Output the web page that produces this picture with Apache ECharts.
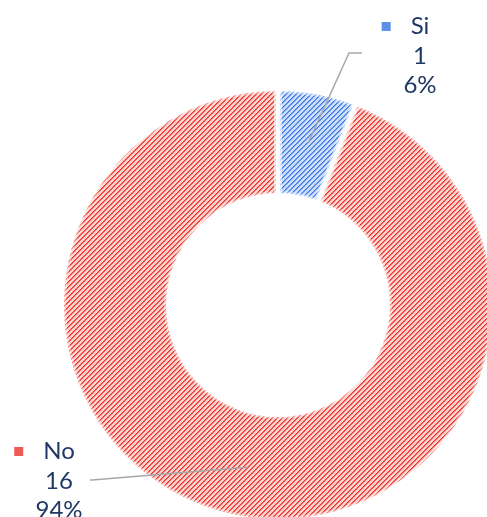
<!DOCTYPE html>
<html>
<head>
<meta charset="utf-8">
<script src="https://cdn.jsdelivr.net/npm/echarts@6/dist/echarts.min.js"></script>
<style>
  html, body { margin: 0; padding: 0; background: #fff; }
  #chart { width: 487px; height: 517px; }
</style>
</head>
<body>
<div id="chart"></div>
<script>
// Survey answers
const categories = ['Si', 'No'];
const counts = [1, 16];

// Palette per answer: [stripe, stripe edge, background], plus key colour
const stripeColors = [
  ['rgb(58,118,232)', 'rgb(118,160,240)', 'rgb(205,222,251)'],
  ['rgb(236,48,42)', 'rgb(243,108,100)', 'rgb(251,210,206)']
];
const keyColors = ['#5B8FE8', '#EE5A55'];

// Upward diagonal hatch tile
function hatch(cols) {
  const size = 5;
  const c = document.createElement('canvas');
  c.width = size; c.height = size;
  const ctx = c.getContext('2d');
  ctx.fillStyle = cols[2];
  ctx.fillRect(0, 0, size, size);
  for (let y = 0; y < size; y++) {
    const d = (size - 1 - y + size) % size;
    ctx.fillStyle = cols[0];
    ctx.fillRect(d, y, 1, 1);
    ctx.fillStyle = cols[1];
    ctx.fillRect((d + 1) % size, y, 1, 1);
  }
  return c;
}

const total = counts.reduce((a, b) => a + b, 0);
const ringData = categories.map((name, i) => ({
  name,
  value: counts[i],
  itemStyle: { color: { image: hatch(stripeColors[i]), repeat: 'repeat' } }
}));

const textColor = '#1F3864';
const font = 'Lato';

const labelSpots = {
  Si: { x: 420, y: 56, bend: [349, 53], end: [362, 53] },
  No: { x: 59, y: 481, bend: [92, 480], end: [90, 480] }
};

const ring = { center: [278, 305], radius: [110, 216] };

const chart = echarts.init(document.getElementById('chart'), null, { renderer: 'canvas' });

chart.setOption({
  animation: false,
  series: [
    {
      type: 'pie',
      z: 2,
      center: ring.center,
      radius: ring.radius,
      startAngle: 90,
      clockwise: true,
      silent: true,
      label: { show: false },
      labelLine: { show: false },
      itemStyle: { borderColor: '#ffffff', borderWidth: 4 },
      data: ringData
    },
    {
      // soft fade along the slice edges
      type: 'pie',
      z: 3,
      center: ring.center,
      radius: ring.radius,
      startAngle: 90,
      clockwise: true,
      silent: true,
      label: { show: false },
      labelLine: { show: false },
      itemStyle: { color: 'rgba(0,0,0,0)', borderColor: 'rgba(255,255,255,0.4)', borderWidth: 8 },
      data: categories.map((name, i) => ({ name, value: counts[i] }))
    },
    {
      // invisible guide ring that anchors the callout lines inside the band
      type: 'pie',
      z: 4,
      center: ring.center,
      radius: [0, 165],
      startAngle: 90,
      clockwise: true,
      silent: true,
      itemStyle: { color: 'rgba(0,0,0,0)' },
      emphasis: { disabled: true },
      data: categories.map((name, i) => ({ name, value: counts[i] })),
      label: {
        show: true,
        position: 'outside',
        formatter: p => {
          const pct = Math.round(p.value / total * 100);
          const mk = p.dataIndex === 0 ? 'm0' : 'm1';
          return `{${mk}|}{g|}{t|${p.name}}{r|}\n{t|${p.value}}\n{t|${pct}%}`;
        },
        align: 'center',
        rich: {
          m0: { width: 9, height: 9, backgroundColor: keyColors[0] },
          m1: { width: 9, height: 9, backgroundColor: keyColors[1] },
          g: { width: 20 },
          r: { width: 29 },
          t: { fontFamily: font, fontSize: 24, color: textColor, lineHeight: 29.5 }
        }
      },
      labelLine: {
        show: true,
        lineStyle: { color: '#A6A6A6', width: 1.5 }
      },
      labelLayout: params => {
        const name = categories[params.dataIndex];
        const s = labelSpots[name];
        const start = params.labelLinePoints ? params.labelLinePoints[0] : s.bend;
        return {
          x: s.x,
          y: s.y,
          align: 'center',
          verticalAlign: 'middle',
          labelLinePoints: [start, s.bend, s.end]
        };
      }
    }
  ]
});
</script>
</body>
</html>
